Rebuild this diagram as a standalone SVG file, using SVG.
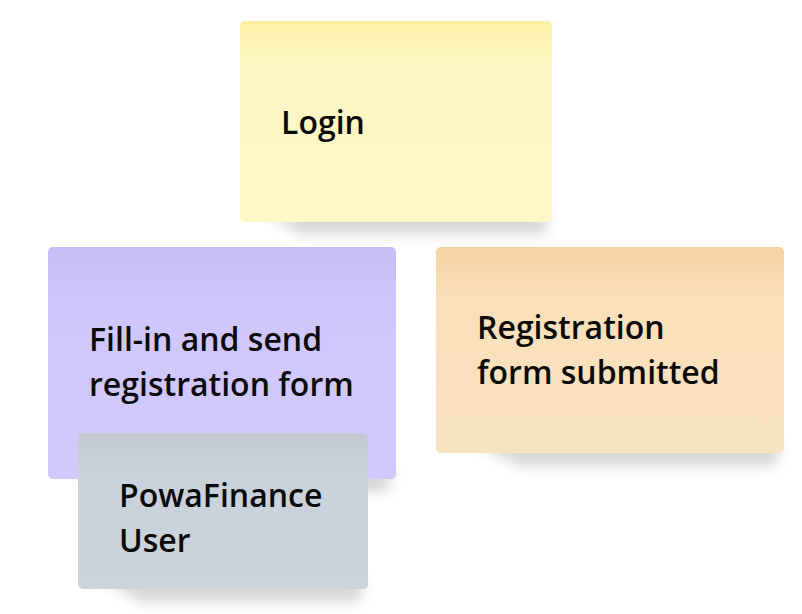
<svg xmlns="http://www.w3.org/2000/svg" width="802" height="614" viewBox="0 0 802 614">
<defs>
<filter id="sh" x="-20%" y="-80%" width="140%" height="260%"><feGaussianBlur stdDeviation="7"/></filter>
<linearGradient id="gy" x1="0" y1="0" x2="0" y2="1"><stop offset="0" stop-color="#fcf0a6"/><stop offset="0.25" stop-color="#fdf6c4"/><stop offset="1" stop-color="#fdf7c6"/></linearGradient>
<linearGradient id="gp" x1="0" y1="0" x2="0" y2="1"><stop offset="0" stop-color="#c6bcf6"/><stop offset="0.25" stop-color="#cfc7fb"/><stop offset="1" stop-color="#d1c9fc"/></linearGradient>
<linearGradient id="go" x1="0" y1="0" x2="0" y2="1"><stop offset="0" stop-color="#f6d3a3"/><stop offset="0.25" stop-color="#f9e0bb"/><stop offset="1" stop-color="#f9e2bf"/></linearGradient>
<linearGradient id="gg" x1="0" y1="0" x2="0" y2="1"><stop offset="0" stop-color="#c2c9d3"/><stop offset="0.25" stop-color="#c9d1db"/><stop offset="1" stop-color="#cbd3dd"/></linearGradient>
</defs>
<style>
.t{font-family:"Open Sans","Noto Sans","Liberation Sans",sans-serif;font-weight:600;font-size:32px;fill:#0a0a0a}
.s{fill:#000;opacity:.16;filter:url(#sh)}
</style>
<rect width="802" height="614" fill="#ffffff"/>
<g id="login">
<path class="s" d="M262 210 L548 210 L546 234 L300 234 Z"/>
<rect x="240" y="21" width="312" height="201" rx="5" fill="url(#gy)"/>
<text class="t" x="281" y="134">Login</text>
</g>
<g id="submitted">
<path class="s" d="M470 441 L780 441 L776 466 L520 466 Z"/>
<rect x="436" y="247" width="348" height="206" rx="5" fill="url(#go)"/>
<text class="t" x="477" y="339">Registration</text>
<text class="t" x="477" y="384">form submitted</text>
</g>
<g id="fillin">
<path class="s" d="M70 467 L392 467 L388 492 L110 492 Z"/>
<rect x="48" y="247" width="348" height="232" rx="5" fill="url(#gp)"/>
<text class="t" x="89" y="351">Fill-in and send</text>
<text class="t" x="89" y="396">registration form</text>
</g>
<g id="user">
<path class="s" d="M100 577 L364 577 L360 602 L140 602 Z"/>
<rect x="78" y="433" width="290" height="156" rx="5" fill="url(#gg)"/>
<text class="t" x="119" y="507">PowaFinance</text>
<text class="t" x="119" y="552">User</text>
</g>
<g id="connectors"/>
</svg>
